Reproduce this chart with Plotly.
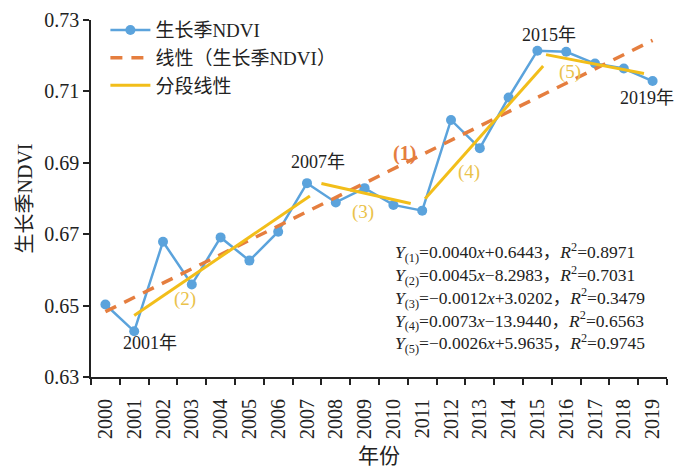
import plotly.graph_objects as go

# Growing-season NDVI, 2000-2019
years = list(range(2000, 2020))
ndvi = [0.6503, 0.6428, 0.6679, 0.6559, 0.6691, 0.6626, 0.6707, 0.6843,
        0.6789, 0.6829, 0.6782, 0.6766, 0.7020, 0.6941, 0.7083, 0.7214,
        0.7211, 0.7178, 0.7164, 0.7129]

# Overall linear trend, Y(1) = 0.0040x + 0.6443 with x = 1..20
trend_slope = 0.0040
trend_intercept = 0.6443

# Piecewise linear fits (2)-(5): start/end year and value of each segment
seg_labels = ["(2)", "(3)", "(4)", "(5)"]
seg_x0 = [2001.0, 2007.5, 2011.1, 2015.3]
seg_x1 = [2007.1, 2010.6, 2015.2, 2018.7]
seg_y0 = [0.6472, 0.6842, 0.6799, 0.7203]
seg_y1 = [0.6807, 0.6786, 0.7171, 0.7150]

equations = [
    ("0.0040<i>x</i>+0.6443", "0.8971"),
    ("0.0045<i>x</i>−8.2983", "0.7031"),
    ("−0.0012<i>x</i>+3.0202", "0.3479"),
    ("0.0073<i>x</i>−13.9440", "0.6563"),
    ("−0.0026<i>x</i>+5.9635", "0.9745"),
]

SERIF = "Liberation Serif, Times New Roman, Noto Sans CJK SC, serif"
BLUE = "#5BA3DC"
ORANGE = "#E57E3F"
GOLD = "#F2BE1A"
GOLD_TEXT = "#EAC24A"
INK = "#222222"

fig = go.Figure()

fig.add_trace(go.Scatter(
    x=years, y=ndvi, mode="lines+markers", name="生长季NDVI",
    line=dict(color=BLUE, width=2.5),
    marker=dict(color=BLUE, size=10),
))

trend_y = [trend_slope * (i + 1) + trend_intercept for i in range(len(years))]
fig.add_trace(go.Scatter(
    x=years, y=trend_y, mode="lines", name="线性（生长季NDVI）",
    line=dict(color=ORANGE, width=3.5, dash="12px,9px"),
))

seg_x, seg_y = [], []
for a, b, c, d in zip(seg_x0, seg_x1, seg_y0, seg_y1):
    seg_x += [a, b, None]
    seg_y += [c, d, None]
fig.add_trace(go.Scatter(
    x=seg_x, y=seg_y, mode="lines", name="分段线性",
    line=dict(color=GOLD, width=3),
))

annotations = []
# Year call-outs
for txt, x, y in [("2001年", 2001.55, 0.6395), ("2007年", 2007.38, 0.6902),
                  ("2015年", 2015.4, 0.7258), ("2019年", 2018.8, 0.7082)]:
    annotations.append(dict(x=x, y=y, text=txt, showarrow=False,
                            font=dict(family=SERIF, size=18, color=INK)))

# Segment labels
annotations.append(dict(x=2010.4, y=0.6927, text="<b>(1)</b>", showarrow=False,
                        font=dict(family=SERIF, size=20, color=ORANGE)))
for txt, x, y in zip(seg_labels, [2002.76, 2008.94, 2012.62, 2016.13],
                     [0.6518, 0.6762, 0.6874, 0.7154]):
    annotations.append(dict(x=x, y=y, text=txt, showarrow=False,
                            font=dict(family=SERIF, size=19, color=GOLD_TEXT)))

# Regression equations
eq_lines = [f"<i>Y</i><sub>({i + 1})</sub>={f}，<i>R</i><sup>2</sup>={r}"
            for i, (f, r) in enumerate(equations)]
annotations.append(dict(x=2010.0, y=0.6690, xanchor="left", yanchor="top",
                        align="left", text="<br>".join(eq_lines), showarrow=False,
                        font=dict(family=SERIF, size=17.5, color=INK)))

fig.update_layout(
    width=676, height=469,
    margin=dict(l=91, r=9, t=20, b=92),
    paper_bgcolor="white", plot_bgcolor="white",
    font=dict(family=SERIF, color=INK),
    showlegend=True,
    legend=dict(x=0.025, y=1.025, xanchor="left", yanchor="top",
                bgcolor="rgba(0,0,0,0)", font=dict(family=SERIF, size=19),
                itemwidth=40, tracegroupgap=0),
    annotations=annotations,
)

fig.update_xaxes(
    range=[1999.5, 2019.5], tickmode="array", tickvals=years,
    ticktext=[str(y) for y in years], tickangle=-90, ticks="",
    ticklabelstandoff=12, automargin=False,
    tickfont=dict(family=SERIF, size=20, color=INK),
    minor=dict(tickmode="array", tickvals=[y + 0.5 for y in range(1999, 2020)],
               ticks="outside", ticklen=6, tickcolor=INK, tickwidth=1.5,
               showgrid=False),
    showline=True, linecolor=INK, linewidth=2, showgrid=False, zeroline=False,
    title=dict(text="年份", font=dict(family=SERIF, size=21, color=INK), standoff=10),
)
fig.update_yaxes(
    range=[0.63, 0.73], tickmode="array",
    tickvals=[0.63, 0.65, 0.67, 0.69, 0.71, 0.73], tickformat=".2f",
    ticks="outside", ticklen=6, tickcolor=INK, tickwidth=1.5, automargin=False,
    tickfont=dict(family=SERIF, size=20, color=INK),
    showline=True, linecolor=INK, linewidth=1.5, showgrid=False, zeroline=False,
    title=dict(text="生长季NDVI", font=dict(family=SERIF, size=20, color=INK), standoff=6),
)

fig.write_html("out.html")
